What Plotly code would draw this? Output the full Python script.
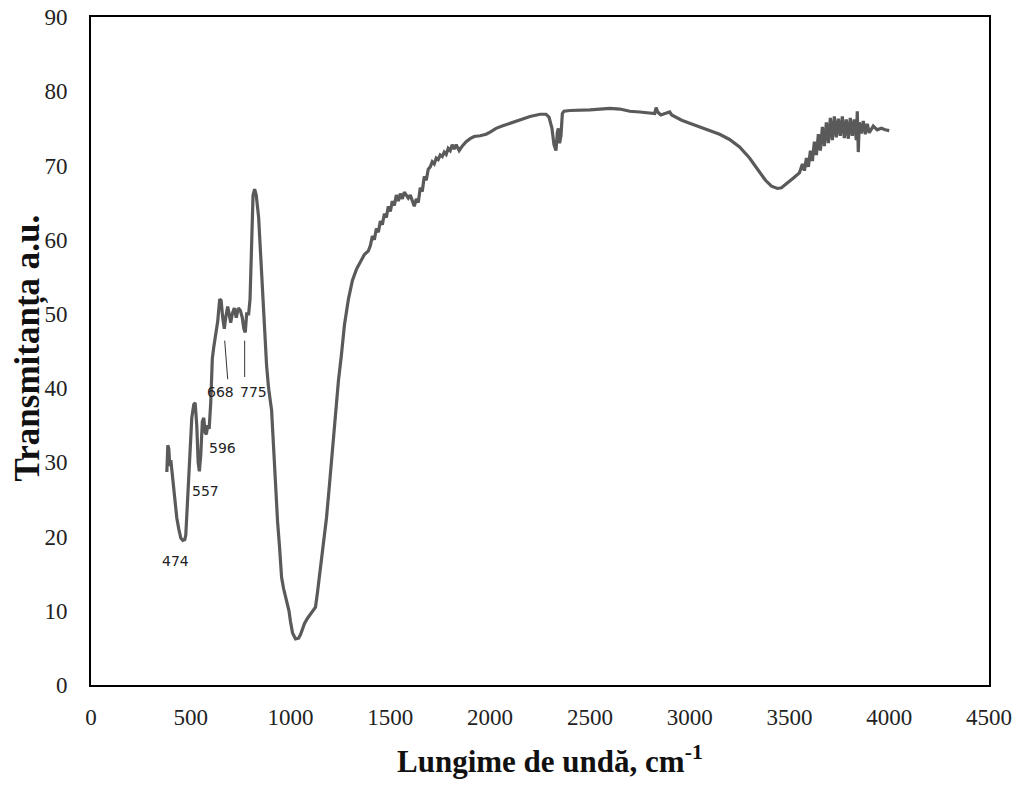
import plotly.graph_objects as go

wavenumber = [380, 385, 390, 395, 400, 410, 420, 430, 440, 450, 460, 470, 475, 485, 495, 505, 515, 522,
              530, 537, 543, 550, 558, 565, 572, 578, 585, 592, 600, 608, 615, 625, 635, 645, 652, 660,
              668, 675, 685, 692, 700, 708, 718, 728, 738, 748, 758, 766, 773, 780, 790, 797, 805, 812,
              820, 828, 840, 850, 860, 870, 880, 890, 905, 915, 925, 935, 945, 955, 965, 975, 985, 992,
              1000, 1010, 1025, 1040, 1050, 1060, 1070, 1085, 1100, 1115, 1125, 1135, 1150, 1165, 1180,
              1195, 1210, 1225, 1240, 1255, 1270, 1290, 1310, 1330, 1350, 1370, 1390, 1400, 1410, 1420,
              1430, 1440, 1450, 1460, 1470, 1480, 1490, 1500, 1510, 1520, 1530, 1540, 1550, 1560, 1570,
              1580, 1590, 1600, 1610, 1620, 1630, 1640, 1650, 1660, 1670, 1680, 1690, 1700, 1710, 1720,
              1730, 1740, 1750, 1760, 1770, 1780, 1790, 1800, 1810, 1820, 1830, 1845, 1860, 1880, 1900,
              1920, 1950, 1980, 2000, 2030, 2060, 2100, 2150, 2200, 2250, 2280, 2295, 2310, 2320, 2330,
              2337, 2342, 2348, 2355, 2362, 2370, 2400, 2450, 2500, 2550, 2600, 2650, 2700, 2750, 2800,
              2825, 2832, 2840, 2855, 2870, 2885, 2900, 2910, 2930, 2960, 3000, 3050, 3100, 3150, 3200,
              3250, 3300, 3340, 3380, 3410, 3440, 3460, 3490, 3520, 3550, 3565, 3575, 3585, 3595, 3605,
              3615, 3625, 3635, 3645, 3655, 3665, 3675, 3685, 3695, 3705, 3715, 3725, 3735, 3745, 3755,
              3765, 3775, 3785, 3795, 3805, 3815, 3825, 3835, 3840, 3845, 3850, 3860, 3870, 3880, 3890,
              3900, 3920, 3940, 3960, 3980, 4000]

transmittance = [28.7, 32.3, 31.8, 29.5, 30.3, 27.5, 25.0, 22.5, 21.0, 19.8, 19.5, 19.6, 20.2, 26.0, 31.0,
                 36.0, 37.8, 38.0, 35.0, 30.0, 28.8, 31.0, 35.5, 36.0, 34.0, 33.8, 35.0, 34.5, 38.0, 44.0,
                 45.5, 47.5, 49.0, 52.0, 51.8, 49.5, 48.0, 49.5, 51.0, 50.0, 48.8, 50.0, 50.8, 49.5, 50.8,
                 50.5, 49.5, 48.0, 47.5, 50.0, 50.0, 52.0, 60.0, 66.0, 66.8, 66.0, 63.0, 58.0, 52.0, 47.0,
                 43.0, 40.0, 37.0, 32.0, 26.5, 22.0, 18.5, 14.5, 13.0, 11.8, 11.0, 10.0, 8.5, 7.0, 6.2,
                 6.3, 6.8, 7.5, 8.3, 9.0, 9.5, 10.0, 10.5, 12.5, 16.0, 19.0, 22.5, 27.0, 32.0, 37.0, 41.0,
                 44.5, 48.5, 52.0, 54.5, 56.0, 57.0, 58.0, 58.5, 59.2, 60.5, 60.0, 61.5, 61.0, 62.5, 62.0,
                 63.5, 63.0, 64.5, 63.8, 65.2, 64.6, 66.0, 65.2, 66.2, 65.5, 66.4, 66.0, 65.6, 66.0, 65.2,
                 64.5, 65.5, 65.0, 67.0, 66.5, 68.5, 68.0, 69.5, 69.8, 70.5, 70.2, 71.0, 70.8, 71.4, 71.2,
                 71.8, 71.5, 72.3, 72.0, 72.8, 72.2, 72.8, 72.0, 72.6, 73.2, 73.6, 73.9, 74.0, 74.2, 74.5,
                 75.0, 75.3, 75.7, 76.2, 76.6, 76.9, 76.9, 76.5, 75.0, 72.8, 72.0, 74.5, 75.0, 73.0, 74.0,
                 77.0, 77.3, 77.4, 77.4, 77.5, 77.6, 77.7, 77.6, 77.3, 77.2, 77.1, 77.0, 77.8, 77.2, 76.8,
                 76.9, 77.0, 77.2, 76.8, 76.5, 76.1, 75.7, 75.2, 74.7, 74.2, 73.5, 72.5, 71.0, 69.5, 68.0,
                 67.2, 66.9, 67.0, 67.6, 68.3, 69.0, 70.2, 69.3, 71.0, 69.8, 72.0, 70.6, 73.2, 71.4, 74.2,
                 72.0, 75.2, 72.6, 75.8, 73.0, 76.4, 73.4, 76.6, 73.8, 76.3, 74.0, 76.6, 73.7, 76.2, 73.6,
                 76.4, 74.0, 76.2, 73.4, 77.3, 71.8, 75.8, 74.3, 76.0, 74.2, 75.6, 74.4, 75.3, 74.8, 75.0,
                 74.8, 74.7]

peak_labels = ["474", "557", "596", "668", "775"]
peak_label_x = [425, 575, 660, 650, 815]
peak_label_y = [16.7, 26.1, 31.9, 39.5, 39.5]

x_ticks = [0, 500, 1000, 1500, 2000, 2500, 3000, 3500, 4000, 4500]
y_ticks = [0, 10, 20, 30, 40, 50, 60, 70, 80, 90]

fig = go.Figure()
fig.add_trace(go.Scatter(x=wavenumber, y=transmittance, mode="lines",
                         line=dict(color="#5a5a5a", width=3.2), showlegend=False))

for t, x, y in zip(peak_labels, peak_label_x, peak_label_y):
    fig.add_annotation(x=x, y=y, text=t, showarrow=False, xref="x", yref="y",
                       font=dict(family="DejaVu Sans", size=14, color="#222222"))

# leader lines for 668 and 775
fig.add_shape(type="line", x0=685, y0=41.2, x1=670, y1=46.4, xref="x", yref="y",
              line=dict(color="#333333", width=1))
fig.add_shape(type="line", x0=770, y0=41.5, x1=770, y1=46.4, xref="x", yref="y",
              line=dict(color="#333333", width=1))

# axis titles
fig.add_annotation(x=0.511, y=-0.112, xref="paper", yref="paper", showarrow=False,
                   xanchor="center", yanchor="middle",
                   text="<b>Lungime de undă, cm<sup>-1</sup></b>",
                   font=dict(family="Liberation Serif", size=31, color="#111111"))
fig.add_annotation(x=-0.070, y=0.504, xref="paper", yref="paper", showarrow=False,
                   xanchor="center", yanchor="middle",
                   text="<b>Transmitanța a.u.</b>", textangle=-90,
                   font=dict(family="Liberation Serif", size=35, color="#111111"))

fig.update_layout(
    width=1021, height=807,
    margin=dict(l=83, r=40, t=9, b=130),
    plot_bgcolor="white", paper_bgcolor="white",
    xaxis=dict(range=[0, 4500], tickvals=x_ticks, showgrid=False, zeroline=False,
               showline=True, linecolor="black", linewidth=1.8, mirror=True, automargin=False,
               ticks="", ticklabelstandoff=10, ticklabeloverflow="allow",
               tickfont=dict(family="Liberation Serif", size=23, color="#222222")),
    yaxis=dict(range=[0, 90], tickvals=y_ticks, showgrid=False, zeroline=False,
               showline=True, linecolor="black", linewidth=1.8, mirror=True, automargin=False,
               ticks="", ticklabelstandoff=17, ticklabeloverflow="allow",
               tickfont=dict(family="Liberation Serif", size=23, color="#222222")),
)

fig.write_html("out.html")
